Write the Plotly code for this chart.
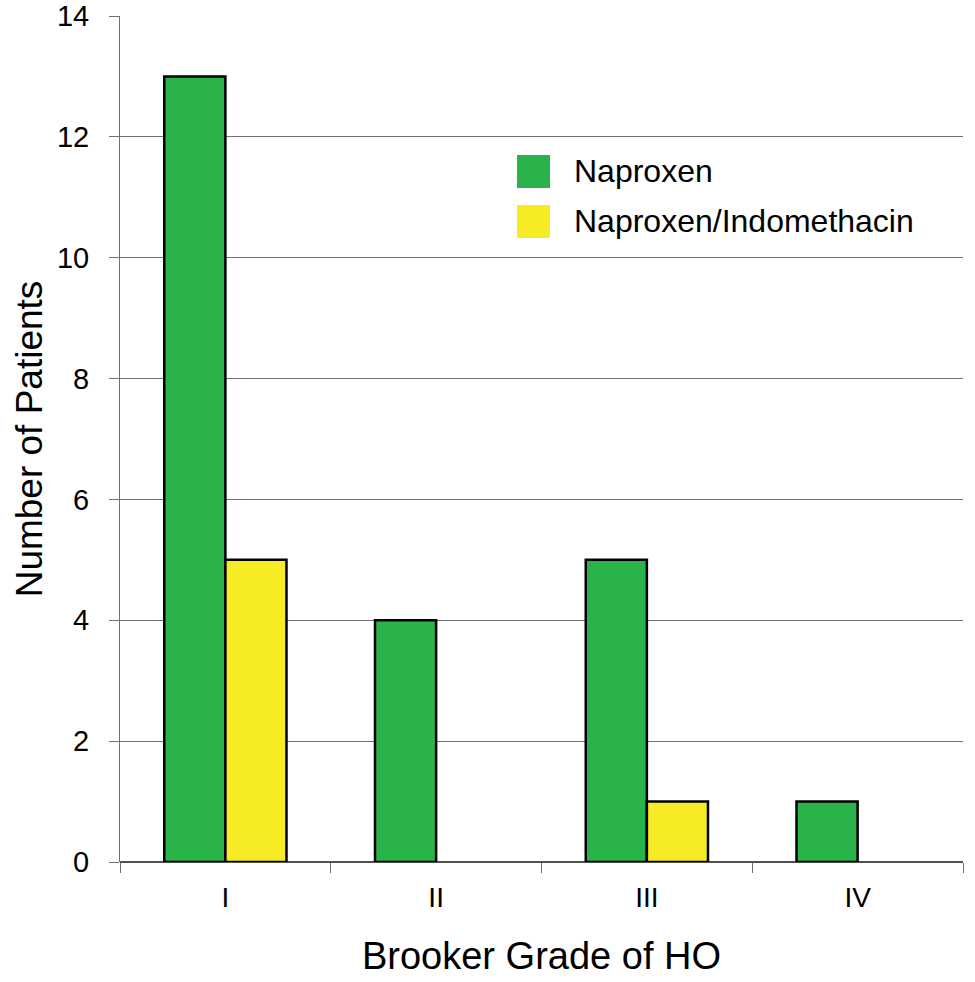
import plotly.graph_objects as go

grades = ["I", "II", "III", "IV"]
naproxen = [13, 4, 5, 1]
naproxen_indo = [5, 0, 1, 0]
series_names = ["Naproxen", "Naproxen/Indomethacin"]
series_colors = ["#2bb34b", "#f7eb26"]

fig = go.Figure()
for name, vals, col in zip(series_names, [naproxen, naproxen_indo], series_colors):
    # no outline on empty bars
    widths = [2.5 if v > 0 else 0 for v in vals]
    fig.add_trace(go.Bar(
        x=grades, y=vals, name=name,
        marker=dict(color=col, line=dict(color="black", width=widths)),
        showlegend=False,
    ))

# hand-drawn legend with big square swatches
shapes = []
annotations = []
for i, (name, col) in enumerate(zip(series_names, series_colors)):
    y0 = 1 - (155 - 16 + i * 50) / 846
    shapes.append(dict(type="rect", xref="paper", yref="paper",
                       x0=(517 - 120) / 843, x1=(550 - 120) / 843,
                       y0=y0 - 33 / 846, y1=y0,
                       fillcolor=col, line=dict(width=0)))
    annotations.append(dict(text=name, xref="paper", yref="paper",
                            x=(572 - 120) / 843, y=y0 - 16.5 / 846,
                            xanchor="left", yanchor="middle", showarrow=False,
                            font=dict(size=32, color="black")))

fig.update_layout(
    width=975, height=982,
    margin=dict(l=120, r=12, t=16, b=120),
    paper_bgcolor="white", plot_bgcolor="white",
    font=dict(family="Liberation Sans, Arial, sans-serif", color="black"),
    barmode="group", bargap=0.42, bargroupgap=0,
    shapes=shapes, annotations=annotations,
    xaxis=dict(
        title=dict(text="Brooker Grade of HO", font=dict(size=38), standoff=30),
        tickfont=dict(size=28), ticks="outside", tickson="boundaries",
        ticklen=10, tickcolor="#707070", showline=False, showgrid=False,
        ticklabelstandoff=16, automargin=False,
    ),
    yaxis=dict(
        title=dict(text="Number of Patients", font=dict(size=37), standoff=2),
        range=[0, 14], dtick=2, tickfont=dict(size=29),
        ticks="outside", ticklen=10, tickcolor="#707070",
        showline=True, linecolor="#707070", linewidth=1,
        showgrid=True, gridcolor="#707070", gridwidth=1,
        zeroline=True, zerolinecolor="#505050", zerolinewidth=1.5,
        ticklabelstandoff=14, automargin=False, ticklabeloverflow="allow",
    ),
)

# drop the default 8px page margin so the figure sits at the window corner
fig.write_html("out.html", config={"displayModeBar": False},
               post_script="document.body.style.margin = '0';")
